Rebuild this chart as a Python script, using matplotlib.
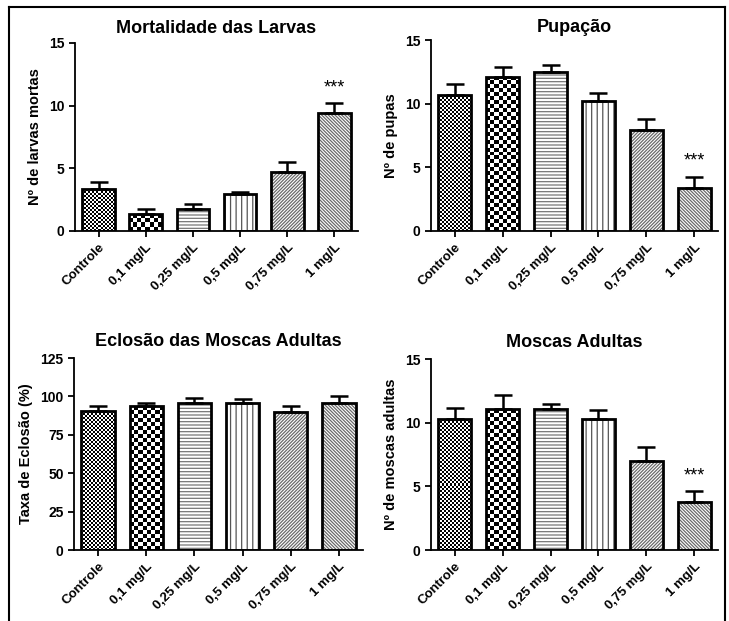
import numpy as np
import matplotlib
matplotlib.use('Agg')
import matplotlib.pyplot as plt
from matplotlib.lines import Line2D

plt.rcParams['font.family'] = ['Liberation Sans', 'DejaVu Sans']
plt.rcParams['font.weight'] = 'bold'
plt.rcParams['hatch.linewidth'] = 0.9

labels = ['Controle', '0,1 mg/L', '0,25 mg/L', '0,5 mg/L', '0,75 mg/L', '1 mg/L']

larvas = [3.32, 1.38, 1.78, 2.93, 4.68, 9.44]
larvas_err = [0.62, 0.35, 0.37, 0.21, 0.82, 0.77]

pupas = [10.65, 12.12, 12.49, 10.24, 7.93, 3.35]
pupas_err = [0.89, 0.78, 0.57, 0.62, 0.84, 0.92]

eclosao = [90.3, 93.5, 95.4, 95.4, 89.6, 96.0]
eclosao_err = [3.4, 2.2, 3.3, 2.7, 4.3, 4.1]

adultas = [10.26, 11.07, 11.07, 10.29, 6.99, 3.80]
adultas_err = [0.92, 1.10, 0.37, 0.70, 1.10, 0.83]

# padrao de cada barra (checker = tabuleiro desenhado com imshow), cor da hachura
padroes = [('checker', 2.0), ('checker', 4.0), '-----', '|||', '/' * 10, '\\' * 10]
cores_hatch = [None, None, '#777777', '#555555', '#6a6a6a', '#6a6a6a']

paineis = [
    # titulo, ylabel, valores, erros, ymax, passo, estrelas, posicao, pad
    ('Mortalidade das Larvas', 'Nº de larvas mortas', larvas, larvas_err, 15, 5, [5],
     [75/729, 1-231/621, 283/729, 188/621], 7.5),
    ('Pupação', 'Nº de pupas', pupas, pupas_err, 15, 5, [5],
     [431/729, 1-231/621, 287/729, 191/621], 6),
    ('Eclosão das Moscas Adultas', 'Taxa de Eclosão (%)', eclosao, eclosao_err, 125, 25, [],
     [74/729, 1-550/621, 289/729, 192/621], 9),
    ('Moscas Adultas', 'Nº de moscas adultas', adultas, adultas_err, 15, 5, [5],
     [431/729, 1-550/621, 287/729, 191/621], 9),
]

fig = plt.figure(figsize=(7.29, 6.21), dpi=100)


def tabuleiro(ax, rect, cell_px):
    x0, y0 = rect.get_x(), rect.get_y()
    w, h = rect.get_width(), rect.get_height()
    p0 = ax.transData.transform((x0, y0))
    p1 = ax.transData.transform((x0 + w, y0 + h))
    nx = max(1, int(round((p1[0] - p0[0]) / cell_px)))
    ny = max(1, int(round((p1[1] - p0[1]) / cell_px)))
    arr = np.add.outer(np.arange(ny), np.arange(nx)) % 2
    im = ax.imshow(arr, cmap='gray', extent=(x0, x0 + w, y0, y0 + h), aspect='auto',
                   interpolation='nearest', zorder=2, origin='lower')
    im.set_clip_path(rect)


for titulo, ylab, vals, errs, ymax, passo, estrelas, pos, pad in paineis:
    ax = fig.add_axes(pos)
    x = np.arange(len(labels))
    ax.set_xlim(-0.5, 5.5)
    ax.set_ylim(0, ymax)
    # barras de fundo (hachura) + contorno preto por cima
    fundo = ax.bar(x, vals, width=0.69, facecolor='white', linewidth=0, zorder=2)
    contorno = ax.bar(x, vals, width=0.69, facecolor='none', edgecolor='black',
                      linewidth=2.0, zorder=3)
    for b, c, p, cor in zip(fundo, contorno, padroes, cores_hatch):
        if isinstance(p, tuple):
            b.set_visible(False)
            tabuleiro(ax, c, p[1])
        else:
            b.set_edgecolor(cor)
            b.set_linewidth(0)
            b.set_hatch(p)
    ax.set_xlim(-0.5, 5.5)
    ax.set_ylim(0, ymax)
    ax.errorbar(x, vals, yerr=[np.zeros(len(vals)), errs], fmt='none', ecolor='black',
                elinewidth=1.8, capsize=6.5, capthick=1.8, zorder=4)
    for i in estrelas:
        ax.annotate('***', xy=(x[i], vals[i] + errs[i]), xytext=(0, 11),
                    textcoords='offset points', ha='center', va='center',
                    fontsize=13, fontweight='normal')
    ax.set_title(titulo, fontsize=13, fontweight='bold', pad=pad)
    ax.set_ylabel(ylab, fontsize=10.5, fontweight='bold', labelpad=5)
    ax.set_yticks(np.arange(0, ymax + 1, passo))
    ax.set_xticks(x)
    ax.set_xticklabels(labels, rotation=45, ha='right', rotation_mode='anchor')
    ax.tick_params(axis='both', direction='out', length=4, width=1.3, labelsize=10)
    ax.tick_params(axis='x', labelsize=9.5)
    for s in ['top', 'right']:
        ax.spines[s].set_visible(False)
    for s in ['left', 'bottom']:
        ax.spines[s].set_linewidth(1.3)

# moldura
fig.add_artist(Line2D([9/729, 9/729], [0, 1-7/621], color='black', lw=1.5, transform=fig.transFigure))
fig.add_artist(Line2D([9/729, 725/729], [1-7/621, 1-7/621], color='black', lw=1.5, transform=fig.transFigure))
fig.add_artist(Line2D([725/729, 725/729], [0, 1-7/621], color='black', lw=1.5, transform=fig.transFigure))

fig.savefig('out.png', dpi=100)
